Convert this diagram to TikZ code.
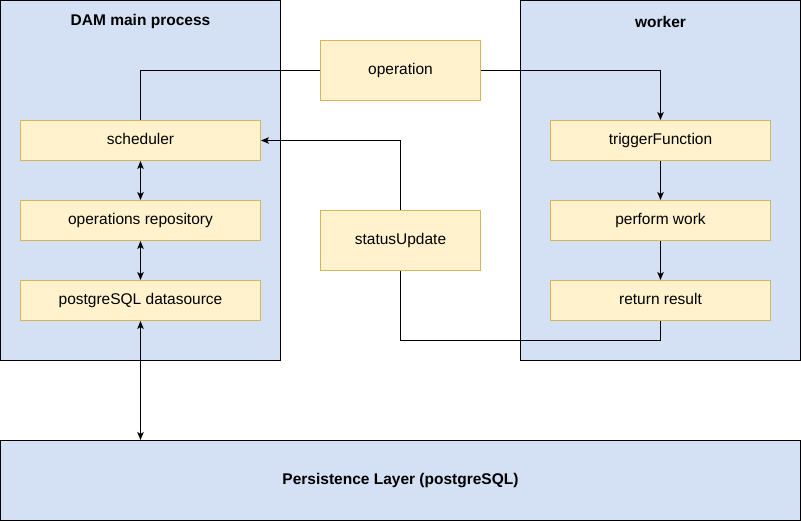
\documentclass[tikz,border=0pt]{standalone}
\usepackage{fontspec}
\setmainfont{Liberation Sans}
\usepackage{xcolor}
\usepackage{tikz}
\usetikzlibrary{arrows.meta, positioning}

\definecolor{boxblue}{HTML}{D4E1F5}
\definecolor{boxyellow}{HTML}{FFF2CC}
\definecolor{lineyellow}{HTML}{D6B656}

\tikzset{
    group/.style={draw=black, fill=boxblue, line width=1pt, minimum width=280pt, minimum height=360pt, inner sep=0pt},
    comp/.style={draw=lineyellow, fill=boxyellow, line width=1pt, minimum width=240pt, minimum height=40pt, inner sep=0pt, text height=11pt, text depth=3pt, font=\fontsize{15.5}{18}\selectfont},
    msg/.style={comp, minimum width=160pt, minimum height=60pt},
    title/.style={font=\fontsize{15.5}{18}\selectfont\bfseries},
}

\begin{document}
\begin{tikzpicture}[x=1pt, y=-1pt, >={Stealth[length=8pt, width=6.5pt, inset=2pt]}, line width=1pt]
    \useasboundingbox (-0.5,-0.5) rectangle (800.5,520.5);

    % Khối tiến trình chính và worker
    \node[group] (dam) at (140,180) {};
    \node[title] (damtitle) at (140,21) {DAM main process};
    \node[group] (worker) at (660,180) {};
    \node[title] (workertitle) at (660,21) {worker};
    \node[group, minimum width=800pt, minimum height=80pt] (persist) at (400,480) {};
    \node[title] (persisttitle) at (400,480) {Persistence Layer (postgreSQL)};

    % Các thành phần bên trong
    \node[comp] (sched) at (140,140) {scheduler};
    \node[comp] (repo) at (140,220) {operations repository};
    \node[comp] (datasrc) at (140,300) {postgreSQL datasource};
    \node[comp, minimum width=220pt] (trig) at (660,140) {triggerFunction};
    \node[comp, minimum width=220pt] (work) at (660,220) {perform work};
    \node[comp, minimum width=220pt] (result) at (660,300) {return result};

    % Thông điệp
    \node[msg] (op) at (400,70) {operation};
    \node[msg] (status) at (400,240) {statusUpdate};

    % Mũi tên
    \draw (sched.north) |- (op.west);
    \draw[->] (op.east) -| (trig.north);
    \draw[->] (trig) -- (work);
    \draw[->] (work) -- (result);
    \draw (result.south) -- ++(0,20) -| (status.south);
    \draw[->] (status.north) |- (sched.east);
    \draw[<->] (sched) -- (repo);
    \draw[<->] (repo) -- (datasrc);
    \draw[<->] (datasrc.south) -- (persist.north -| datasrc.south);
    
\end{tikzpicture}
\end{document}
